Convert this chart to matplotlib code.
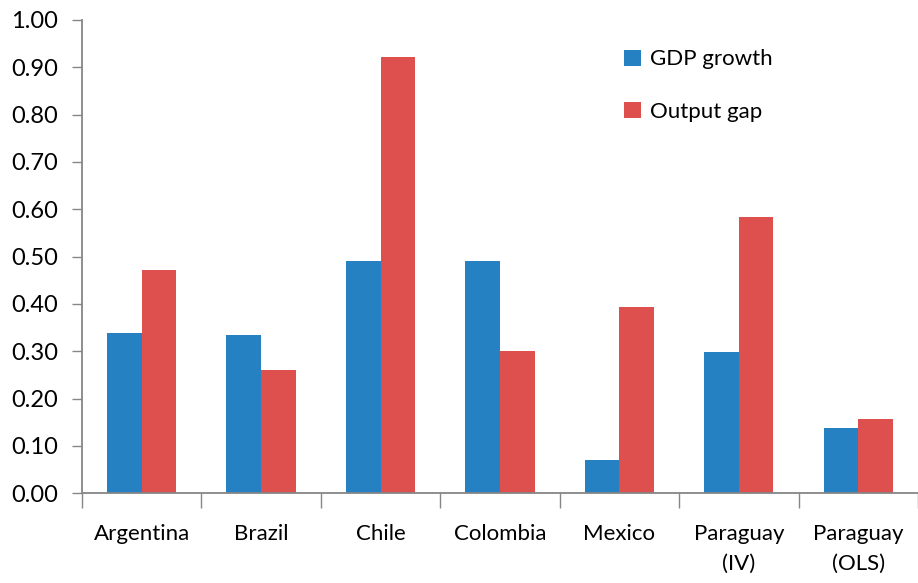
import matplotlib.pyplot as plt
import numpy as np

countries = ["Argentina", "Brazil", "Chile", "Colombia", "Mexico", "Paraguay\n(IV)", "Paraguay\n(OLS)"]
gdp_growth = [0.339, 0.335, 0.491, 0.491, 0.070, 0.299, 0.138]
output_gap = [0.472, 0.260, 0.922, 0.301, 0.394, 0.584, 0.157]

blue = "#2581C1"
red = "#DD504E"
grey = "#868686"

plt.rcParams['font.family'] = ['Lato', 'DejaVu Sans']

fig = plt.figure(figsize=(9.18, 5.83), dpi=100)
ax = fig.add_axes([0.0893, 0.1539, 0.9107, 0.8118])

x = np.arange(len(countries))
w = 0.29
ax.bar(x - w / 2, gdp_growth, w, color=blue, label="GDP growth")
ax.bar(x + w / 2, output_gap, w, color=red, label="Output gap")

ax.set_xlim(-0.5, len(countries) - 0.5)
ax.set_ylim(0, 1.0)
ax.set_yticks(np.arange(0, 1.01, 0.1))
ax.set_yticklabels(["%.2f" % v for v in np.arange(0, 1.01, 0.1)], fontsize=17)

# boundaries between categories get the tick marks, names sit in the middle
ax.set_xticks(np.arange(-0.5, len(countries), 1.0))
ax.set_xticklabels([])
ax.set_xticks(x, minor=True)
ax.set_xticklabels(countries, minor=True, fontsize=16, linespacing=1.6)
ax.tick_params(axis="x", which="minor", length=0, pad=22)
ax.tick_params(axis="x", which="major", length=11, color=grey, width=1)
ax.tick_params(axis="y", length=7, color=grey, width=1, pad=10)

for s in ["top", "right"]:
    ax.spines[s].set_visible(False)
for s in ["left", "bottom"]:
    ax.spines[s].set_color(grey)
    ax.spines[s].set_linewidth(1.3)

ax.legend(loc="upper left", bbox_to_anchor=(0.625, 0.98), frameon=False, fontsize=16,
          handlelength=0.75, handleheight=0.75, handletextpad=0.4, labelspacing=1.45)

fig.savefig("out.png", dpi=100)
